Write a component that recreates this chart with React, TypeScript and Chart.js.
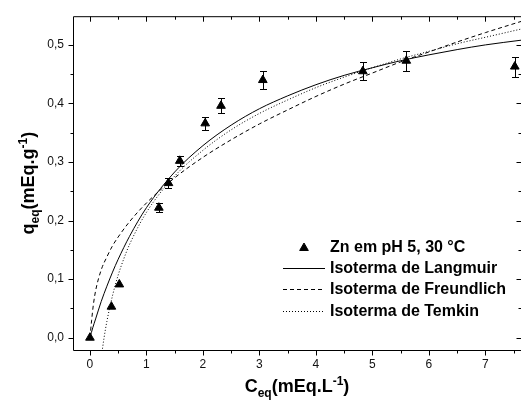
import React, { useEffect, useRef } from 'react';
import { Chart, registerables } from 'chart.js';

Chart.register(...registerables);

// Experimental points: Zn at pH 5, 30 °C
const zincC = [0, 0.38, 0.52, 1.22, 1.39, 1.59, 2.04, 2.32, 3.06, 4.83, 5.6, 7.52];
const zincQ = [0.0, 0.053, 0.091, 0.222, 0.264, 0.302, 0.366, 0.396, 0.44, 0.455, 0.473, 0.463];
const zincErr = [0, 0, 0, 0.008, 0.009, 0.008, 0.011, 0.013, 0.015, 0.015, 0.017, 0.017];

// Fitted isotherm curves
const langmuirC = [0, 0.05, 0.1, 0.2, 0.3, 0.4, 0.5, 0.7, 1, 1.5, 2, 2.5, 3, 3.5, 4, 4.5, 5, 5.5, 6, 6.5, 7, 7.63];
const langmuirQ = [0, 0.017, 0.032, 0.062, 0.088, 0.112, 0.134, 0.173, 0.222, 0.283, 0.328, 0.363, 0.391, 0.413, 0.432, 0.448, 0.461, 0.473, 0.483, 0.492, 0.5, 0.508];

const freundlichC = [0, 0.03, 0.06, 0.1, 0.2, 0.3, 0.4, 0.5, 0.7, 1, 1.5, 2, 2.5, 3, 3.5, 4, 4.5, 5, 5.5, 6, 6.5, 7, 7.63];
const freundlichQ = [0, 0.03, 0.056, 0.08, 0.116, 0.138, 0.157, 0.172, 0.198, 0.23, 0.273, 0.308, 0.338, 0.365, 0.389, 0.412, 0.433, 0.452, 0.471, 0.488, 0.505, 0.521, 0.54];

const temkinC = [0.2, 0.25, 0.3, 0.4, 0.5, 0.6, 0.7, 1, 1.5, 2, 2.5, 3, 3.5, 4, 4.5, 5, 5.5, 6, 6.5, 7, 7.63];
const temkinQ = [-0.034, 0.0, 0.028, 0.072, 0.107, 0.135, 0.159, 0.214, 0.276, 0.32, 0.355, 0.383, 0.406, 0.427, 0.445, 0.461, 0.476, 0.489, 0.502, 0.513, 0.527];

// Axis ticks
const xTickValues = [0, 1, 2, 3, 4, 5, 6, 7];
const xTickLabels = ['0', '1', '2', '3', '4', '5', '6', '7'];
const xMinorTicks = [0.5, 1.5, 2.5, 3.5, 4.5, 5.5, 6.5, 7.5];
const yTickValues = [0, 0.1, 0.2, 0.3, 0.4, 0.5];
const yTickLabels = ['0,0', '0,1', '0,2', '0,3', '0,4', '0,5'];
const yMinorTicks = [0.05, 0.15, 0.25, 0.35, 0.45];

// Legend labels
const legendLabels = ['Zn em pH 5, 30 °C', 'Isoterma de Langmuir', 'Isoterma de Freundlich', 'Isoterma de Temkin'];

// Axis titles as rich text segments [text, kind]
const xTitleSegs: [string, string][] = [['C', 'n'], ['eq', 'sub'], ['(mEq.L', 'n'], ['-1', 'sup'], [')', 'n']];
const yTitleSegs: [string, string][] = [['q', 'n'], ['eq', 'sub'], ['(mEq.g', 'n'], ['-1', 'sup'], [')', 'n']];

const FONT = '"Liberation Sans", Arial, Helvetica, sans-serif';

function toXY(xs: number[], ys: number[]) {
  return xs.map((x, i) => ({ x, y: ys[i] }));
}

function drawRich(ctx: CanvasRenderingContext2D, segs: [string, string][], cx: number, baseY: number) {
  const mainSize = 18;
  const subSize = 12;
  const items = segs.map(([t, k]) => {
    const size = k === 'n' ? mainSize : subSize;
    ctx.font = `bold ${size}px ${FONT}`;
    const w = ctx.measureText(t).width;
    const dy = k === 'sub' ? 5 : k === 'sup' ? -7 : 0;
    return { t, size, w, dy };
  });
  const total = items.reduce((s, it) => s + it.w, 0);
  let x = cx - total / 2;
  ctx.textBaseline = 'alphabetic';
  ctx.textAlign = 'left';
  items.forEach((it) => {
    ctx.font = `bold ${it.size}px ${FONT}`;
    ctx.fillText(it.t, x, baseY + it.dy);
    x += it.w;
  });
}

function drawTriangle(ctx: CanvasRenderingContext2D, x: number, y: number, r: number) {
  ctx.beginPath();
  for (let i = 0; i < 3; i++) {
    const a = (i * 2 * Math.PI) / 3;
    const px = x + Math.sin(a) * r;
    const py = y - Math.cos(a) * r;
    if (i === 0) ctx.moveTo(px, py);
    else ctx.lineTo(px, py);
  }
  ctx.closePath();
  ctx.fill();
  ctx.stroke();
}

const decorPlugin = {
  id: 'decor',
  afterDatasetsDraw(chart: any) {
    const { ctx, scales } = chart;
    const xs = scales.x;
    const ys = scales.y;
    ctx.save();
    ctx.strokeStyle = '#000';
    ctx.lineWidth = 1;
    zincC.forEach((c, i) => {
      const e = zincErr[i];
      if (!e) return;
      const px = Math.round(xs.getPixelForValue(c)) + 0.5;
      const top = Math.round(ys.getPixelForValue(zincQ[i] + e)) + 0.5;
      const bot = Math.round(ys.getPixelForValue(zincQ[i] - e)) + 0.5;
      ctx.beginPath();
      ctx.moveTo(px, top);
      ctx.lineTo(px, bot);
      ctx.moveTo(px - 3.5, top);
      ctx.lineTo(px + 3.5, top);
      ctx.moveTo(px - 3.5, bot);
      ctx.lineTo(px + 3.5, bot);
      ctx.stroke();
    });
    ctx.restore();
  },
  afterDraw(chart: any) {
    const { ctx, chartArea: a, scales } = chart;
    const xs = scales.x;
    const ys = scales.y;
    ctx.save();
    ctx.strokeStyle = '#000';
    ctx.fillStyle = '#000';
    ctx.lineWidth = 1;
    const L = a.left + 0.5;
    const R = a.right + 0.5;
    const T = a.top + 0.5;
    const B = a.bottom + 0.5;
    ctx.beginPath();
    ctx.moveTo(L, T);
    ctx.lineTo(R, T);
    ctx.lineTo(R, B);
    ctx.lineTo(L, B);
    ctx.closePath();
    ctx.stroke();

    const major = 5;
    const minor = 3;
    ctx.beginPath();
    const xt = (v: number, len: number) => {
      const p = Math.round(xs.getPixelForValue(v)) + 0.5;
      ctx.moveTo(p, B);
      ctx.lineTo(p, B + len);
      ctx.moveTo(p, T);
      ctx.lineTo(p, T + len);
    };
    const yt = (v: number, len: number) => {
      const p = Math.round(ys.getPixelForValue(v)) + 0.5;
      ctx.moveTo(L, p);
      ctx.lineTo(L - len, p);
      ctx.moveTo(R, p);
      ctx.lineTo(R - len, p);
    };
    xTickValues.forEach((v) => xt(v, major));
    xMinorTicks.forEach((v) => xt(v, minor));
    yTickValues.forEach((v) => yt(v, major));
    yMinorTicks.forEach((v) => yt(v, minor));
    ctx.stroke();

    // Axis titles
    ctx.fillStyle = '#000';
    drawRich(ctx, xTitleSegs, (a.left + a.right) / 2, 392);
    ctx.save();
    ctx.translate(34, (a.top + a.bottom) / 2);
    ctx.rotate(-Math.PI / 2);
    drawRich(ctx, yTitleSegs, 0, 0);
    ctx.restore();

    // Legend
    const rowsY = [247, 268, 289, 311];
    const lineX0 = 283;
    const lineX1 = 325;
    const textX = 330;
    ctx.font = `bold 16px ${FONT}`;
    ctx.textBaseline = 'middle';
    ctx.textAlign = 'left';
    legendLabels.forEach((lab, i) => {
      const y = rowsY[i];
      if (i === 0) {
        drawTriangle(ctx, 304, y + 1, 5);
      } else {
        ctx.beginPath();
        ctx.setLineDash(i === 1 ? [] : i === 2 ? [4, 3] : [1, 2]);
        ctx.moveTo(lineX0, y + 0.5);
        ctx.lineTo(lineX1, y + 0.5);
        ctx.stroke();
        ctx.setLineDash([]);
      }
      ctx.fillText(lab, textX, y + 1);
    });
    ctx.restore();
  },
};

export default function App() {
  const ref = useRef<HTMLCanvasElement | null>(null);
  useEffect(() => {
    if (!ref.current) return;
    const lineDs = (label: string, xs: number[], ys: number[], dash: number[]) => ({
      label,
      data: toXY(xs, ys),
      showLine: true,
      borderColor: '#000',
      borderWidth: 1,
      borderDash: dash,
      pointRadius: 0,
      pointHoverRadius: 0,
      fill: false,
      cubicInterpolationMode: 'monotone' as const,
    });
    const chart = new Chart(ref.current, {
      type: 'scatter',
      data: {
        datasets: [
          lineDs(legendLabels[1], langmuirC, langmuirQ, []),
          lineDs(legendLabels[2], freundlichC, freundlichQ, [4, 3]),
          lineDs(legendLabels[3], temkinC, temkinQ, [1, 2]),
          {
            label: legendLabels[0],
            data: toXY(zincC, zincQ),
            showLine: false,
            pointStyle: 'triangle',
            pointRadius: 5,
            pointHoverRadius: 5,
            backgroundColor: '#000',
            borderColor: '#000',
            borderWidth: 1,
          },
        ],
      },
      options: {
        responsive: false,
        animation: false,
        events: [],
        layout: { autoPadding: false, padding: { top: 11, right: 0, left: 0, bottom: 0 } },
        plugins: {
          legend: { display: false },
          tooltip: { enabled: false },
          title: { display: false },
        },
        scales: {
          x: {
            type: 'linear',
            min: -0.3,
            max: 7.63,
            grid: { display: false, drawTicks: false },
            border: { display: false },
            afterBuildTicks: (s: any) => {
              s.ticks = xTickValues.map((v) => ({ value: v }));
            },
            afterFit: (s: any) => {
              s.height = 57;
            },
            ticks: {
              padding: 7,
              color: '#111',
              font: { family: FONT, size: 12 },
              maxRotation: 0,
              autoSkip: false,
              callback: (_v: any, i: number) => xTickLabels[i],
            },
          },
          y: {
            type: 'linear',
            min: -0.021,
            max: 0.549,
            grid: { display: false, drawTicks: false },
            border: { display: false },
            afterBuildTicks: (s: any) => {
              s.ticks = yTickValues.map((v) => ({ value: v }));
            },
            afterFit: (s: any) => {
              s.width = 73;
            },
            ticks: {
              padding: 9,
              color: '#111',
              font: { family: FONT, size: 12 },
              autoSkip: false,
              callback: (_v: any, i: number) => yTickLabels[i],
            },
          },
        },
      },
      plugins: [decorPlugin],
    });
    return () => chart.destroy();
  }, []);
  return (
    <div style={{ position: 'fixed', left: 0, top: 0, width: 521, height: 407, background: '#fff' }}>
      <canvas ref={ref} width={521} height={407} />
    </div>
  );
}
